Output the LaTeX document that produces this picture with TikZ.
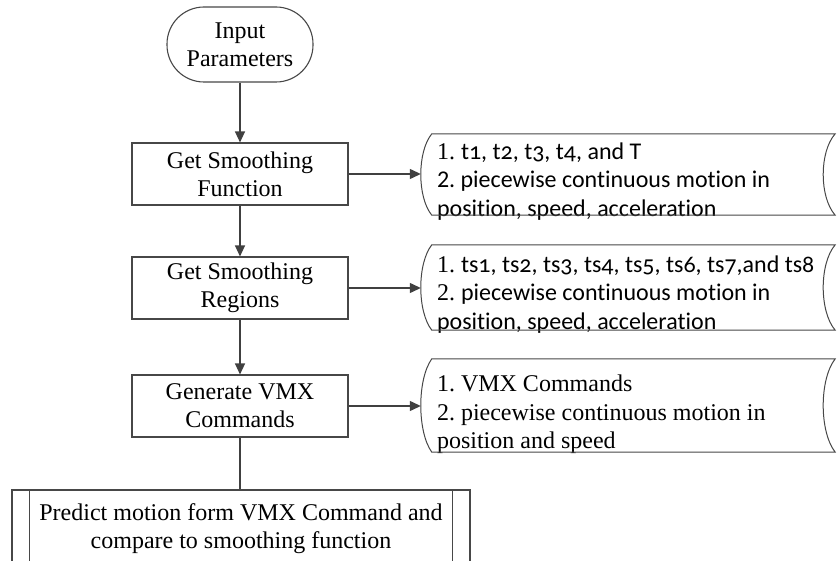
\documentclass[tikz,border=0pt]{standalone}
\usepackage{fontspec}
\setmainfont{Liberation Serif}
\newfontfamily\calfont[Ligatures=NoCommon]{Carlito}
\newfontfamily\calold[Numbers=OldStyle,Ligatures=NoCommon]{Carlito}
\newcommand\od[1]{{\calold #1}}
\usetikzlibrary{arrows.meta,calc}
\begin{document}
\frenchspacing
\begin{tikzpicture}[x=1pt,y=-1pt,
  lc/.style={draw=black!72, line width=1.1pt},
  base/.style={font=\fontsize{24}{28}\selectfont, align=center, inner sep=0pt},
  term/.style={base, lc, rounded corners=37pt, minimum width=146pt, minimum height=75pt},
  proc/.style={base, lc, minimum width=216pt, minimum height=62pt},
  pred/.style={base, lc, minimum width=458pt, minimum height=77pt},
  dshape/.style={inner sep=0pt, minimum width=414pt},
  dtext/.style={font=\fontsize{24}{28.5}\selectfont\frenchspacing, align=left, inner sep=0pt, anchor=west},
  arr/.style={draw=black!75, line width=1.3pt, -{Triangle[length=11pt,width=10pt]}},
  ln/.style={draw=black!75, line width=1.3pt},
  dline/.style={draw=black!72, line width=1pt}]
\useasboundingbox (0,0) rectangle (839,561);
\clip (0,0) rectangle (839,561);

\node[term] (inp) at (240,44.5) {Input\\Parameters};
\node[proc] (f1) at (240,174) {Get Smoothing\\Function};
\node[proc] (f2) at (240,288) {Get Smoothing\\Regions};
\node[proc] (f3) at (240,406) {Generate VMX\\Commands};
\node[pred] (pp) at (241,528.5) {Predict motion form VMX Command and\\compare to smoothing function};
\draw[lc] ($(pp.north west)+(18,0)$) -- ($(pp.south west)+(18,0)$);
\draw[lc] ($(pp.north east)+(-18,0)$) -- ($(pp.south east)+(-18,0)$);

\node[dshape, minimum height=81pt] (d1) at (628,174.5) {};
\node[dshape, minimum height=85pt] (d2) at (628,287.5) {};
\node[dshape, minimum height=93pt] (d3) at (628,405.5) {};

\node[dtext] (d1t) at ($(d1.west)+(16,7)$)
  {1. {\calfont t\od{1}, t\od{2}, t\od{3}, t\od{4}, and T}\\{\calfont 2. piecewise continuous motion in}\\{\calfont position, speed, acceleration}};
\node[dtext] (d2t) at ($(d2.west)+(16,7)$)
  {1. {\calfont ts\od{1}, ts\od{2}, ts\od{3}, ts\od{4}, ts\od{5}, ts\od{6}, ts\od{7},and ts\od{8}}\\2. {\calfont piecewise continuous motion in}\\{\calfont position, speed, acceleration}};
\node[dtext] (d3t) at ($(d3.west)+(16,9)$)
  {1. VMX Commands\\2. piecewise continuous motion in\\position and speed};

\foreach \n in {d1,d2,d3}{
  \draw[dline] ($(\n.north west)+(11,0)$) -- (\n.north east)
     .. controls ($(\n.north east)!0.22!(\n.south east)+(-16,0)$) and ($(\n.north east)!0.78!(\n.south east)+(-16,0)$) .. (\n.south east)
     -- ($(\n.south west)+(11,0)$)
     .. controls ($(\n.south west)!0.22!(\n.north west)+(-3.7,0)$) and ($(\n.south west)!0.78!(\n.north west)+(-3.7,0)$) .. cycle;
}

\draw[arr] (inp.south) -- (f1.north);
\draw[arr] (f1.south) -- (f2.north);
\draw[arr] (f2.south) -- (f3.north);
\draw[ln] (f3.south) -- (f3.south |- pp.north);
\draw[arr] (f1.east) -- (f1.east -| d1.west);
\draw[arr] (f2.east) -- (f2.east -| d2.west);
\draw[arr] (f3.east) -- (f3.east -| d3.west);
\end{tikzpicture}
\end{document}
